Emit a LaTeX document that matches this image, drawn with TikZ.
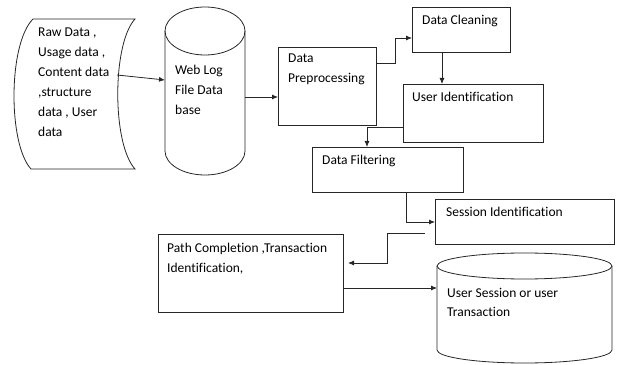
\documentclass[tikz,border=0pt]{standalone}
\usepackage{fontspec}
\setmainfont{Carlito}[Ligatures=NoCommon]
\usetikzlibrary{arrows.meta,calc}
\begin{document}
\begin{tikzpicture}[x=1pt,y=1pt,
  ln/.style={line width=0.8pt, draw=black!85},
  box/.style={ln, draw, rectangle, inner sep=0pt, outer sep=0pt, anchor=south west},
  hold/.style={inner sep=0pt, outer sep=0pt, anchor=south west},
  txt/.style={inner sep=0pt, anchor=base west, align=left, font=\fontsize{13.5}{20}\selectfont},
  arr/.style={ln, -{Latex[length=6pt,width=5pt]}}]
\useasboundingbox (0,0) rectangle (618,364);

% raw data (stored data shape)
\node[hold, minimum width=122pt, minimum height=150pt] (raw) at (13,195) {};
\draw[ln] (33,345) -- (135,345) .. controls (112,320) and (112,220) .. (135,195)
  -- (31,195) .. controls (8,220) and (8,320) .. (33,345);
\coordinate (rawout) at (117,289);
\node[txt] (rawt) at (38,227) {Raw Data ,\\Usage data ,\\Content data\\,structure\\data , User\\data};

% web log cylinder
\node[hold, minimum width=80pt, minimum height=168pt] (web) at (165,189) {};
\draw[ln] (205,333) ellipse (40 and 24);
\draw[ln] (165,333) -- (165,213) arc (180:360:40 and 24) -- (245,333);
\node[txt] (webt) at (175,249) {Web Log\\File Data\\base};

% boxes
\node[box, minimum width=98pt, minimum height=78pt] (dp) at (278,239) {};
\node[txt] (dpt) at (288,281) {Data\\Preprocessing};
\node[box, minimum width=98pt, minimum height=45pt] (dc) at (412,312) {};
\node[txt] (dct) at (422,339) {Data Cleaning};
\node[box, minimum width=140pt, minimum height=58pt] (ui) at (403,222) {};
\node[txt] (uit) at (412,262) {User Identification};
\node[box, minimum width=151pt, minimum height=45pt] (df) at (312,172) {};
\node[txt] (dft) at (322,199) {Data Filtering};
\node[box, minimum width=179pt, minimum height=45pt] (si) at (435,120) {};
\node[txt] (sit) at (446,147) {Session Identification};
\node[box, minimum width=185pt, minimum height=78pt] (pc) at (158,52) {};
\node[txt] (pct) at (167,91) {Path Completion ,Transaction\\Identification,};

% user session cylinder
\node[hold, minimum width=175pt, minimum height=110pt] (us) at (437,1) {};
\draw[ln] (524.5,98) ellipse (87.5 and 13);
\draw[ln] (437,98) -- (437,14) arc (180:360:87.5 and 13) -- (612,98);
\node[txt] (ust) at (447,47) {User Session or user\\Transaction};

% connectors
\draw[arr] (rawout) -- ($(web.west)+(0,11)$);
\draw[arr] (web.east |- 0,267) -- (dp.west |- 0,267);
\draw[arr] (dp.east |- 0,301) -| (395,326) -- (dc.west |- 0,326);
\draw[arr] (dc.south -| 442,0) -- (ui.north -| 442,0);
\draw[arr] (ui.west |- 0,237) -| (df.north -| 367,0);
\draw[arr] (df.south -| 406,0) |- (si.west |- 0,142);
\draw[arr, shorten >=5pt] ($(si.west |- 0,131)+(-10,0)$) -| (387,101) -- (pc.east |- 0,101);
\draw[arr] (pc.east |- 0,76) -- (us.west |- 0,76);
\end{tikzpicture}
\end{document}
